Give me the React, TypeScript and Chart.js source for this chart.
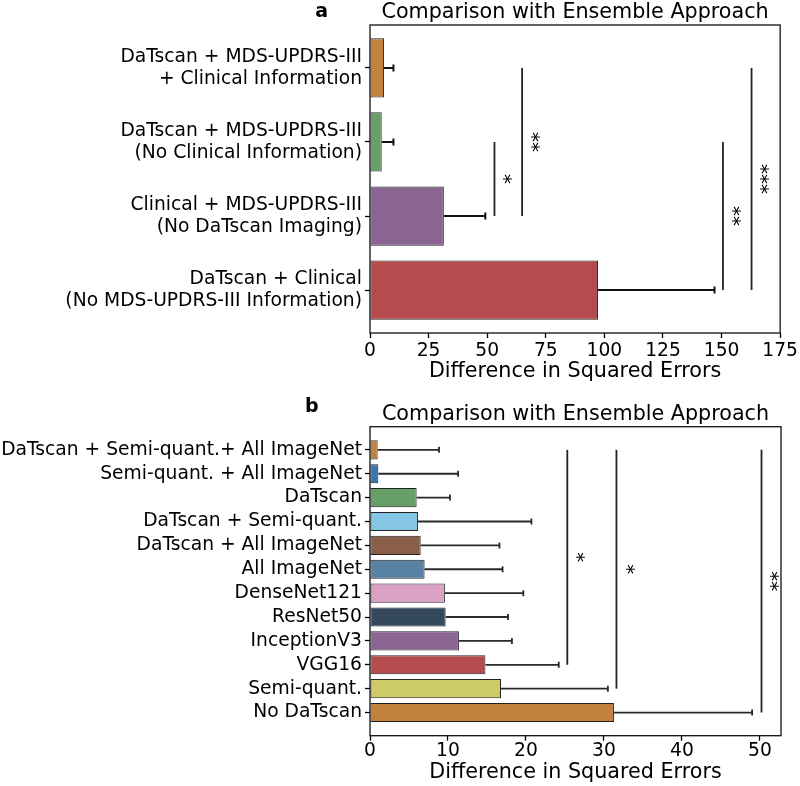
import React, { useEffect, useRef } from "react";
import { Chart, registerables } from "chart.js";
Chart.register(...registerables);

const FAMILY = "'DejaVu Sans', 'Liberation Sans', sans-serif";

// ---------- Panel a data ----------
const labelsA: string[][] = [
  ["DaTscan + MDS-UPDRS-III", "+ Clinical Information"],
  ["DaTscan + MDS-UPDRS-III", "(No Clinical Information)"],
  ["Clinical + MDS-UPDRS-III", "(No DaTscan Imaging)"],
  ["DaTscan + Clinical", "(No MDS-UPDRS-III Information)"],
];
const valuesA = [6.0, 5.0, 31.5, 97.3];
const errHighA = [10.0, 10.0, 49.2, 147.0];
const colorsA = ["#c3813f", "#689e68", "#8b6591", "#b44c4e"];
const ticksA = [0, 25, 50, 75, 100, 125, 150, 175];
// [fromIndex, toIndex, lineX, label, labelX]
const bracketsA: [number, number, number, string, number][] = [
  [0, 2, 64.9, "**", 70.6],
  [1, 2, 53.1, "*", 58.7],
  [1, 3, 150.6, "**", 156.5],
  [0, 3, 162.8, "***", 168.3],
];

// ---------- Panel b data ----------
const labelsB: string[] = [
  "DaTscan + Semi-quant.+ All ImageNet",
  "Semi-quant. + All ImageNet",
  "DaTscan",
  "DaTscan + Semi-quant.",
  "DaTscan + All ImageNet",
  "All ImageNet",
  "DenseNet121",
  "ResNet50",
  "InceptionV3",
  "VGG16",
  "Semi-quant.",
  "No DaTscan",
];
const valuesB = [0.98, 1.07, 5.98, 6.15, 6.5, 7.0, 9.6, 9.7, 11.4, 14.8, 16.8, 31.3];
const errHighB = [8.85, 11.3, 10.26, 20.7, 16.6, 17.0, 19.66, 17.7, 18.2, 24.2, 30.5, 49.0];
const colorsB = [
  "#c3813f", "#3778b0", "#689e68", "#84c6e3", "#8b5e4a", "#5881a3",
  "#dba1c5", "#34495c", "#8b6591", "#b44c4e", "#cdcb68", "#c3813f",
];
const ticksB = [0, 10, 20, 30, 40, 50];
const bracketsB: [number, number, number, string, number][] = [
  [0, 9, 25.3, "*", 27.0],
  [0, 10, 31.6, "*", 33.4],
  [0, 11, 50.2, "**", 51.9],
];

const TITLE = "Comparison with Ensemble Approach";
const XLABEL = "Difference in Squared Errors";

type Panel = {
  letter: string;
  letterX: number;
  letterY: number;
  labels: (string | string[])[];
  values: number[];
  errHigh: number[];
  colors: string[];
  ticks: number[];
  brackets: [number, number, number, string, number][];
  xMax: number;
  yMin: number;
  yMax: number;
  top: number;
  xAxisH: number;
  titlePad: number;
  tickPad: number;
  tickLH: number;
  errColor: string;
  errWidth: number;
  capH: number;
};

function overlay(p: Panel) {
  return {
    id: "overlay" + p.letter,
    afterDraw(chart: any) {
      const ctx = chart.ctx as CanvasRenderingContext2D;
      const area = chart.chartArea;
      const xs = chart.scales.x;
      const ys = chart.scales.y;
      ctx.save();
      // error bars
      ctx.strokeStyle = p.errColor;
      ctx.lineWidth = p.errWidth;
      p.values.forEach((v, i) => {
        const y = ys.getPixelForValue(i);
        const x0 = xs.getPixelForValue(v);
        const x1 = xs.getPixelForValue(p.errHigh[i]);
        ctx.beginPath();
        ctx.moveTo(x0, y);
        ctx.lineTo(x1, y);
        ctx.moveTo(x1, y - p.capH / 2);
        ctx.lineTo(x1, y + p.capH / 2);
        ctx.stroke();
      });
      // significance brackets
      ctx.strokeStyle = "#222";
      ctx.lineWidth = 1.8;
      ctx.fillStyle = "#000";
      ctx.font = `20px ${FAMILY}`;
      p.brackets.forEach(([a, b, lx, label, tx]) => {
        const x = xs.getPixelForValue(lx);
        const ya = ys.getPixelForValue(a);
        const yb = ys.getPixelForValue(b);
        ctx.beginPath();
        ctx.moveTo(x, ya);
        ctx.lineTo(x, yb);
        ctx.stroke();
        const cx = xs.getPixelForValue(tx);
        const cy = (ya + yb) / 2;
        ctx.save();
        ctx.translate(cx, cy);
        ctx.rotate(-Math.PI / 2);
        const m = ctx.measureText(label);
        ctx.textAlign = "center";
        ctx.textBaseline = "alphabetic";
        const off = (m.actualBoundingBoxAscent - m.actualBoundingBoxDescent) / 2;
        ctx.fillText(label, 0, off);
        ctx.restore();
      });
      // frame
      ctx.strokeStyle = "#111";
      ctx.lineWidth = 1.3;
      ctx.strokeRect(area.left, area.top, area.right - area.left, area.bottom - area.top);
      // title
      ctx.fillStyle = "#000";
      ctx.textAlign = "center";
      ctx.textBaseline = "alphabetic";
      ctx.font = `20.7px ${FAMILY}`;
      ctx.fillText(TITLE, (area.left + area.right) / 2, area.top - 6.6);
      // panel letter
      ctx.font = `bold 19px ${FAMILY}`;
      ctx.fillText(p.letter, p.letterX, p.letterY);
      ctx.restore();
    },
  };
}

function makeConfig(p: Panel): any {
  return {
    type: "bar",
    data: {
      datasets: [
        {
          data: p.values.map((v, i) => ({ x: v, y: i })),
          backgroundColor: p.colors,
          borderColor: "#222",
          borderWidth: 1,
          borderSkipped: false,
          barPercentage: 0.8,
          categoryPercentage: 1,
        },
      ],
    },
    options: {
      indexAxis: "y",
      responsive: false,
      animation: false,
      events: [],
      layout: { padding: { left: 0, right: 19, top: p.top, bottom: 0 } },
      plugins: {
        legend: { display: false },
        tooltip: { enabled: false },
        title: { display: false },
      },
      scales: {
        x: {
          type: "linear",
          position: "bottom",
          min: 0,
          max: p.xMax,
          offset: false,
          afterBuildTicks: (s: any) => {
            s.ticks = p.ticks.map((v) => ({ value: v }));
          },
          afterFit: (s: any) => {
            s.height = p.xAxisH;
          },
          grid: {
            display: true,
            offset: false,
            drawOnChartArea: false,
            drawTicks: true,
            tickLength: 5,
            tickWidth: 1.3,
            tickColor: "#000",
          },
          border: { display: false },
          ticks: {
            color: "#000",
            font: { family: FAMILY, size: 18.7 },
            padding: p.tickPad,
            maxRotation: 0,
            autoSkip: false,
          },
          title: {
            display: true,
            text: XLABEL,
            color: "#000",
            font: { family: FAMILY, size: 20.7 },
            padding: { top: 0, bottom: p.titlePad },
          },
        },
        y: {
          type: "linear",
          reverse: true,
          min: p.yMin,
          max: p.yMax,
          offset: false,
          afterBuildTicks: (s: any) => {
            s.ticks = p.labels.map((_, i) => ({ value: i }));
          },
          afterFit: (s: any) => {
            s.width = 370;
          },
          grid: {
            display: true,
            offset: false,
            drawOnChartArea: false,
            drawTicks: true,
            tickLength: 5,
            tickWidth: 1.3,
            tickColor: "#000",
          },
          border: { display: false },
          ticks: {
            color: "#000",
            font: { family: FAMILY, size: 18.7, lineHeight: p.tickLH },
            padding: 3,
            autoSkip: false,
            callback: (v: number) => p.labels[Math.round(v)],
          },
        },
      },
    },
    plugins: [overlay(p)],
  };
}

const panelA: Panel = {
  letter: "a",
  letterX: 321.7,
  letterY: 17.3,
  labels: labelsA,
  values: valuesA,
  errHigh: errHighA,
  colors: colorsA,
  ticks: ticksA,
  brackets: bracketsA,
  xMax: 175,
  yMin: -0.58,
  yMax: 3.58,
  top: 25,
  xAxisH: 60,
  titlePad: 9,
  tickPad: 2,
  tickLH: 1.16,
  errColor: "#111",
  errWidth: 2,
  capH: 7,
};

const panelB: Panel = {
  letter: "b",
  letterX: 311.7,
  letterY: 18.7,
  labels: labelsB,
  values: valuesB,
  errHigh: errHighB,
  colors: colorsB,
  ticks: ticksB,
  brackets: bracketsB,
  xMax: 52.7,
  yMin: -0.97,
  yMax: 11.97,
  top: 33.7,
  xAxisH: 50.3,
  titlePad: 1,
  tickPad: -1,
  tickLH: 1.2,
  errColor: "#2a2a2a",
  errWidth: 1.8,
  capH: 6,
};

function PanelChart({ p, top }: { p: Panel; top: number }) {
  const ref = useRef<HTMLCanvasElement | null>(null);
  useEffect(() => {
    if (!ref.current) return;
    const chart = new Chart(ref.current, makeConfig(p));
    return () => chart.destroy();
  }, [p]);
  return (
    <canvas
      ref={ref}
      width={800}
      height={393}
      style={{ position: "absolute", left: 0, top, width: 800, height: 393, display: "block" }}
    />
  );
}

export default function App() {
  return (
    <div style={{ position: "absolute", left: 0, top: 0, width: 800, height: 786, background: "#fff" }}>
      <PanelChart p={panelA} top={0} />
      <PanelChart p={panelB} top={393} />
    </div>
  );
}
